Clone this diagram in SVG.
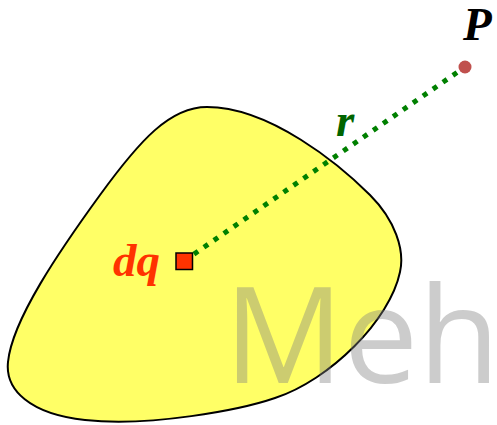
<svg xmlns="http://www.w3.org/2000/svg" width="497" height="425" viewBox="0 0 497 425">
<style>
.lbl{font-family:"Liberation Serif","Times New Roman",serif;font-weight:bold;font-style:italic;font-size:47px}
.wm{font-family:"Open Sans","Liberation Sans",sans-serif;font-size:133px;fill:#808080;fill-opacity:0.4}
</style>
<rect width="497" height="425" fill="#ffffff"/>
<g id="body">
<path d="M207,107 C270,107 340,165 370,195 C395,220 405,250 400,272 C390,320 330,380 275,398 C240,410 150,427 85,420 C30,414 5,390 8,362 C12,320 60,250 100,195 C140,140 170,107 207,107 Z" fill="#ffff66" stroke="#000000" stroke-width="2"/>
</g>
<g id="connectors">
<line x1="184" y1="261" x2="465" y2="67" stroke="#008000" stroke-width="5" stroke-dasharray="5 7.1"/>
</g>
<g id="dq">
<rect x="176" y="253" width="16.5" height="16.5" fill="#ff3300" stroke="#000000" stroke-width="1.5"/>
<text class="lbl" x="113" y="276" fill="#ff3300">dq</text>
</g>
<g id="P">
<circle cx="465" cy="67" r="6.5" fill="#c0504d"/>
<text class="lbl" x="463" y="40" fill="#000000">P</text>
</g>
<g id="r">
<text class="lbl" x="336" y="136" fill="#006400">r</text>
</g>
<text class="wm" x="224" y="383">Meh</text>
</svg>
